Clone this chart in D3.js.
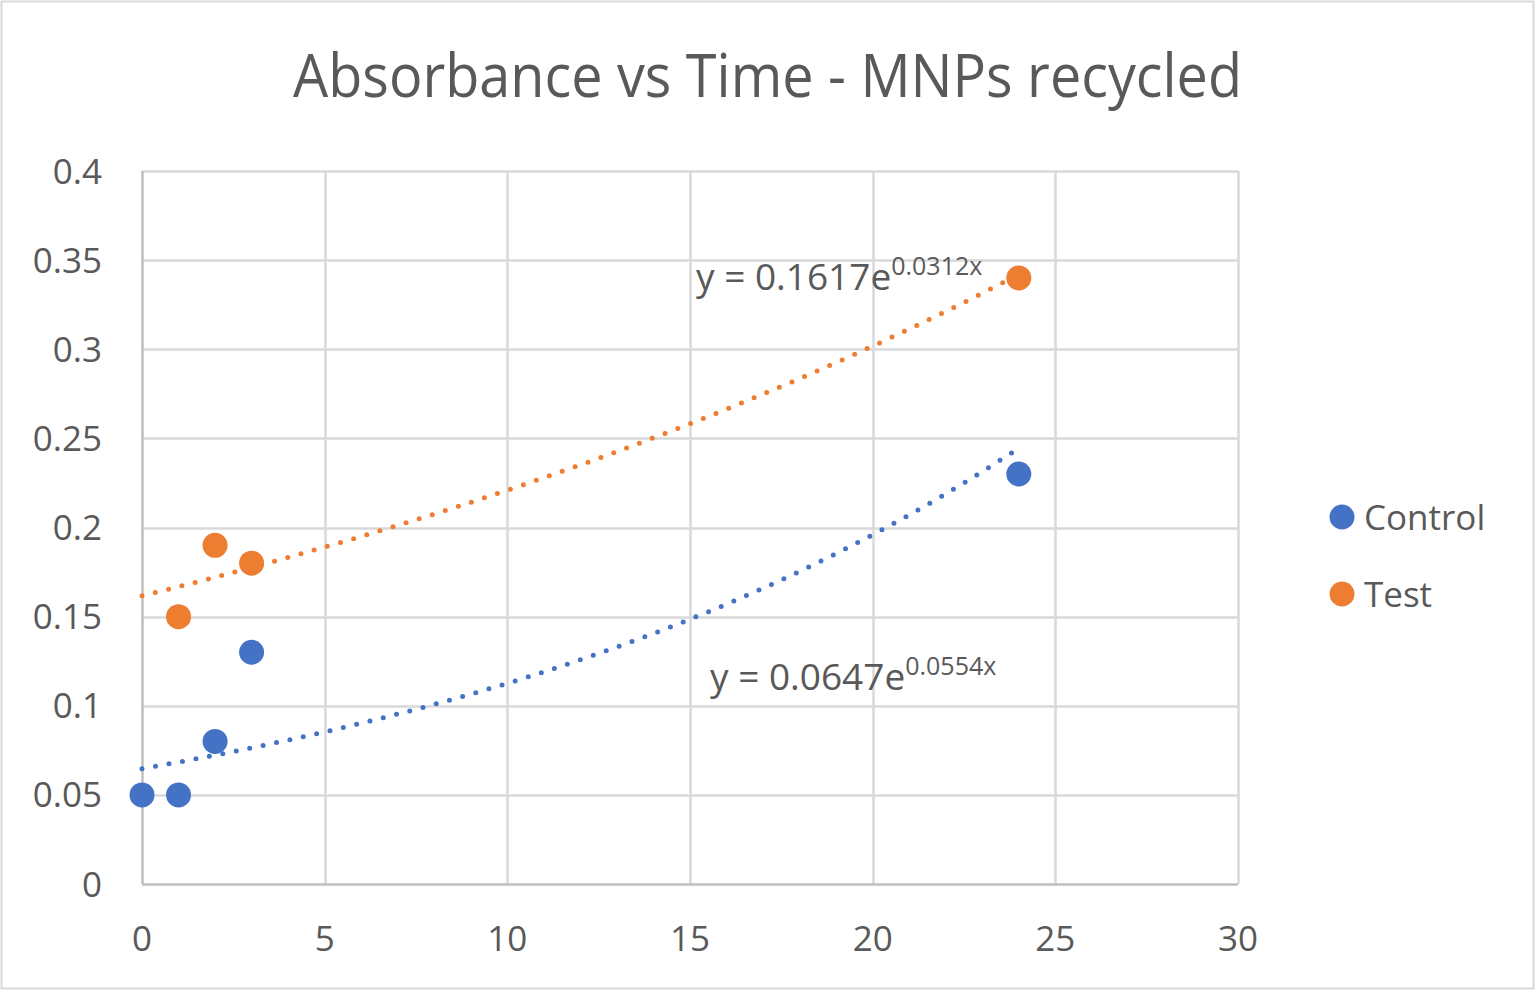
<!DOCTYPE html>
<html><head><meta charset="utf-8">
<script src="https://cdn.jsdelivr.net/npm/d3@7"></script>
<style>body{margin:0;background:#fff}svg{display:block}text{font-family:"Open Sans",sans-serif;fill:#595959}</style>
</head><body>
<svg id="c" width="1537" height="992"></svg>
<script>
const title = "Absorbance vs Time - MNPs recycled";
const controlX = [0, 1, 2, 3, 24];
const controlY = [0.05, 0.05, 0.08, 0.13, 0.23];
const testX = [1, 2, 3, 24];
const testY = [0.15, 0.19, 0.18, 0.34];
const controlFit = {a: 0.0647, b: 0.0554, x0: 0, x1: 24, label: "y = 0.0647e", sup: "0.0554x"};
const testFit = {a: 0.1617, b: 0.0312, x0: 0, x1: 24, label: "y = 0.1617e", sup: "0.0312x"};
const xTicks = [0, 5, 10, 15, 20, 25, 30];
const yTicks = [0, 0.05, 0.1, 0.15, 0.2, 0.25, 0.3, 0.35, 0.4];
const seriesNames = ["Control", "Test"];
const colors = ["#4472C4", "#ED7D31"];

const svg = d3.select("#c");
svg.append("rect").attr("x",1.5).attr("y",1.5).attr("width",1532).attr("height",987)
  .attr("fill","#fff").attr("stroke","#D9D9D9").attr("stroke-width",2);

const L=142, R=1238, T=171, B=884;
const x = d3.scaleLinear().domain([0,30]).range([L,R]);
const y = d3.scaleLinear().domain([0,0.4]).range([B,T]);

svg.append("text").attr("x",767.5).attr("y",97).attr("text-anchor","middle")
  .attr("font-size",60).attr("textLength",949).attr("lengthAdjust","spacingAndGlyphs").text(title);

// grid
const g = svg.append("g");
g.selectAll(".hg").data(yTicks.slice(1)).join("line")
  .attr("x1",L).attr("x2",R).attr("y1",d=>Math.round(y(d))+0.5).attr("y2",d=>Math.round(y(d))+0.5)
  .attr("stroke","#D9D9D9").attr("stroke-width",2.5);
g.selectAll(".vg").data(xTicks.slice(1)).join("line")
  .attr("y1",T).attr("y2",B).attr("x1",d=>Math.round(x(d))+0.5).attr("x2",d=>Math.round(x(d))+0.5)
  .attr("stroke","#D9D9D9").attr("stroke-width",2.5);
// axes lines
g.append("line").attr("x1",L).attr("x2",R).attr("y1",B+0.5).attr("y2",B+0.5).attr("stroke","#BFBFBF").attr("stroke-width",2.5);
g.append("line").attr("x1",L+0.5).attr("x2",L+0.5).attr("y1",T).attr("y2",B).attr("stroke","#BFBFBF").attr("stroke-width",2.5);

// tick labels
svg.selectAll(".yt").data(yTicks).join("text")
  .attr("x",102).attr("y",d=>y(d)).attr("dy","0.36em").attr("text-anchor","end")
  .attr("font-size",35).text(d=>d3.format("")(d));
svg.selectAll(".xt").data(xTicks).join("text")
  .attr("x",d=>x(d)).attr("y",951).attr("text-anchor","middle")
  .attr("font-size",35).text(d=>d);

// trendlines
function trend(f,color){
  const pts = d3.range(0,101).map(i=>{const xv=f.x0+(f.x1-f.x0)*i/100; return [xv, f.a*Math.exp(f.b*xv)];});
  svg.append("path").attr("d",d3.line().x(d=>x(d[0])).y(d=>y(d[1]))(pts))
    .attr("fill","none").attr("stroke",color).attr("stroke-width",5)
    .attr("stroke-linecap","round").attr("stroke-dasharray","0 13.7");
}
trend(testFit, colors[1]);
trend(controlFit, colors[0]);

// points
const pts = [controlX.map((d,i)=>[d,controlY[i]]), testX.map((d,i)=>[d,testY[i]])];
pts.forEach((arr,si)=>{
  svg.selectAll(".p"+si).data(arr).join("circle")
    .attr("cx",d=>x(d[0])).attr("cy",d=>y(d[1])).attr("r",12.5).attr("fill",colors[si]);
});

// equations
function eq(f,px,py){
  const t = svg.append("text").attr("x",px).attr("y",py).attr("font-size",37);
  t.append("tspan").text(f.label);
  t.append("tspan").attr("font-size",25).attr("dy",-15).text(f.sup);
}
eq(testFit, 696, 290);
eq(controlFit, 710, 690);

// legend
seriesNames.forEach((n,i)=>{
  const ly = 517 + i*77;
  svg.append("circle").attr("cx",1342).attr("cy",ly).attr("r",12.5).attr("fill",colors[i]);
  svg.append("text").attr("x",1364).attr("y",ly).attr("dy","0.36em").attr("font-size",35).text(n);
});
</script>
</body></html>
